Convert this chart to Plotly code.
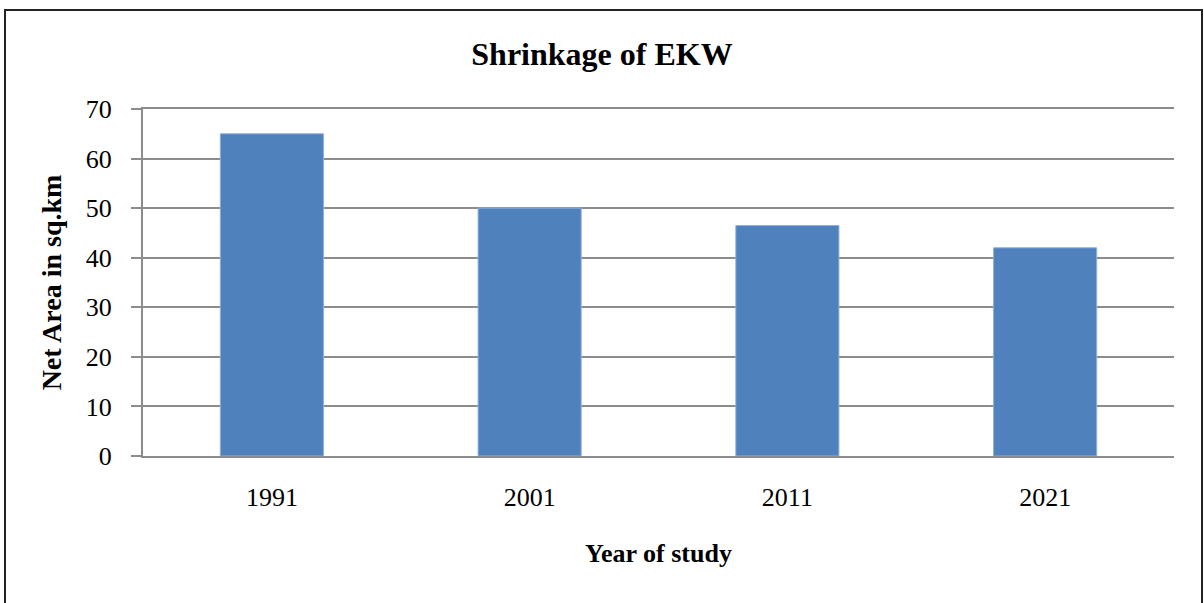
import plotly.graph_objects as go

years = ["1991", "2001", "2011", "2021"]
net_area = [65, 50, 46.5, 42]
y_ticks = [0, 10, 20, 30, 40, 50, 60, 70]

title_text = "Shrinkage of EKW"
x_title = "Year of study"
y_title = "Net Area in sq.km"

W, H = 1204, 603
L, R, T, B = 143, 30, 109, 147

fig = go.Figure()
fig.add_trace(go.Bar(
    x=years, y=net_area,
    marker=dict(color="#4F81BD", line=dict(color="#8DB0DD", width=1)),
    width=0.4,
))

serif = "Liberation Serif, Times New Roman, serif"
pw = W - L - R
ph = H - T - B

fig.update_layout(
    width=W, height=H,
    margin=dict(l=L, r=R, t=T, b=B),
    paper_bgcolor="white", plot_bgcolor="white",
    showlegend=False,
    font=dict(family=serif, color="black"),
    title=dict(text="<b>" + title_text + "</b>", x=(602 - L) / pw, xref="paper",
               xanchor="center",
               y=1 - 54 / H, yanchor="middle",
               font=dict(family=serif, size=32, color="black")),
    xaxis=dict(
        type="category",
        showgrid=False,
        showline=True, linecolor="#8c8c8c", linewidth=2, mirror=True,
        ticks="", tickfont=dict(family=serif, size=26, color="black"),
        ticklabelstandoff=17,
        title=dict(text="<b>" + x_title + "</b>", standoff=33,
                   font=dict(family=serif, size=26, color="black")),
    ),
    yaxis=dict(
        range=[0, 70],
        tickvals=y_ticks,
        showgrid=True, gridcolor="#8c8c8c", gridwidth=2,
        showline=True, linecolor="#8c8c8c", linewidth=2,
        ticks="outside", ticklen=10, tickcolor="#8c8c8c", tickwidth=2,
        tickfont=dict(family=serif, size=26, color="black"),
        ticklabelstandoff=14,
        zeroline=False,
        title=dict(text="<b>" + y_title + "</b>", standoff=16,
                   font=dict(family=serif, size=28, color="black")),
    ),
)

# outer chart border
fig.add_shape(type="rect", xref="paper", yref="paper",
              x0=(5 - L) / pw, x1=(1202 - L) / pw,
              y0=-(B + 10) / ph,
              y1=(ph + T - 10) / ph,
              line=dict(color="#222222", width=2), fillcolor="rgba(0,0,0,0)",
              layer="above")

fig.write_html("out.html", config={"displayModeBar": False},
               post_script="document.body.style.margin='0';")
